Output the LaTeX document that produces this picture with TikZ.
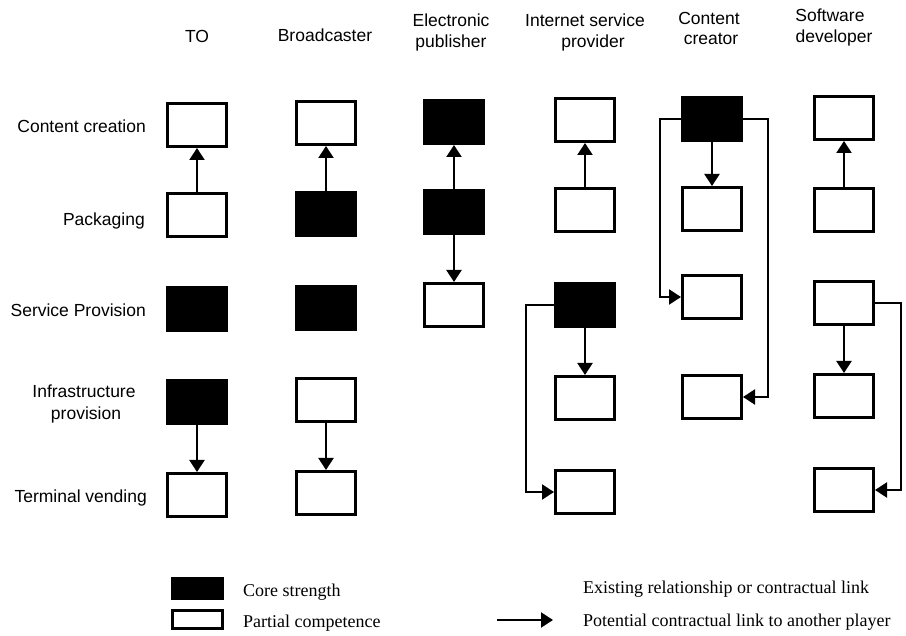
\documentclass[tikz,border=0pt]{standalone}
\usepackage{fontspec}
\setmainfont{Liberation Sans}
\newfontfamily\legfont{Liberation Serif}
\usetikzlibrary{arrows.meta}
\begin{document}
\begin{tikzpicture}[x=1pt,y=-1pt,
  cbox/.style={draw=black,line width=3pt,minimum width=59pt,minimum height=43pt,inner sep=0pt,fill=white},
  core/.style={cbox,fill=black},
  arr/.style={line width=2.2pt,-{Triangle[length=12pt,width=15pt]}},
  hdr/.style={font=\fontsize{17.5}{21}\selectfont,inner sep=0pt,anchor=base},
  rowl/.style={font=\fontsize{17.5}{21}\selectfont,inner sep=0pt,anchor=base east},
  leg/.style={font=\legfont\fontsize{18}{21}\selectfont,inner sep=0pt,anchor=base west}]
\useasboundingbox (0,0) rectangle (906,636);

% headers
\node[hdr] (hTO) at (197,43) {TO};
\node[hdr] (hBr) at (325,42) {Broadcaster};
\node[hdr] (hEPa) at (451,27) {Electronic};
\node[hdr] (hEPb) at (451,48) {publisher};
\node[hdr] (hISPa) at (585,27) {Internet service};
\node[hdr] (hISPb) at (593,48) {provider};
\node[hdr] (hCCa) at (709,25) {Content};
\node[hdr] (hCCb) at (711,45) {creator};
\node[hdr] (hSDa) at (830,22) {Software};
\node[hdr] (hSDb) at (834,43) {developer};

% row labels
\node[rowl] (r1) at (146,133) {Content creation};
\node[rowl] (r2) at (145,226) {Packaging};
\node[rowl] (r3) at (146,317) {Service Provision};
\node[hdr] (r4a) at (84,398) {Infrastructure};
\node[hdr] (r4b) at (86,420) {provision};
\node[rowl] (r5) at (147,503) {Terminal vending};

% TO
\node[cbox] (TO1) at (197,125) {};
\node[cbox] (TO2) at (197,215) {};
\node[core] (TO3) at (197,309) {};
\node[core] (TO4) at (197,402) {};
\node[cbox] (TO5) at (197,495) {};
% Broadcaster
\node[cbox] (Br1) at (326,123) {};
\node[core] (Br2) at (326,214) {};
\node[core] (Br3) at (326,308) {};
\node[cbox] (Br4) at (326,400) {};
\node[cbox] (Br5) at (326,493) {};
% Electronic publisher
\node[core] (EP1) at (454,122) {};
\node[core] (EP2) at (454,212) {};
\node[cbox] (EP3) at (454,305) {};
% ISP
\node[cbox] (ISP1) at (585,120) {};
\node[cbox] (ISP2) at (585,210) {};
\node[core] (ISP3) at (585,305) {};
\node[cbox] (ISP4) at (585,398) {};
\node[cbox] (ISP5) at (585,492) {};
% Content creator
\node[core] (CC1) at (712,119) {};
\node[cbox] (CC2) at (712,209) {};
\node[cbox] (CC3) at (712,297) {};
\node[cbox] (CC4) at (712,397) {};
% Software developer
\node[cbox] (SD1) at (844,118) {};
\node[cbox] (SD2) at (844,210) {};
\node[cbox] (SD3) at (844,303) {};
\node[cbox] (SD4) at (844,396) {};
\node[cbox] (SD5) at (844,490) {};

% connectors
\draw[arr] (TO2.north) -- (TO1.south);
\draw[arr] (TO4.south) -- (TO5.north);
\draw[arr] (Br2.north) -- (Br1.south);
\draw[arr] (Br4.south) -- (Br5.north);
\draw[arr] (EP2.north) -- (EP1.south);
\draw[arr] (EP2.south) -- (EP3.north);
\draw[arr] (ISP2.north) -- (ISP1.south);
\draw[arr] (ISP3.south) -- (ISP4.north);
\draw[arr] (ISP3.west) -- ++(-28,0) |- (ISP5.west);
\draw[arr] (CC1.south) -- (CC2.north);
\draw[arr] (CC1.west) -- ++(-21,0) |- (CC3.west);
\draw[arr] (CC1.east) -- ++(25,0) |- (CC4.east);
\draw[arr] (SD2.north) -- (SD1.south);
\draw[arr] (SD3.south) -- (SD4.north);
\draw[arr] (SD3.east) -- ++(26,0) |- (SD5.east);

% legend
\node[core,minimum width=50pt,minimum height=20pt] (lcore) at (197,588) {};
\node[cbox,minimum width=50pt,minimum height=18pt] (lpart) at (197,619) {};
\node[leg] (tcore) at (243,596) {Core strength};
\node[leg] (tpart) at (243,627) {Partial competence};
\node[leg] (texist) at (583,593) {Existing relationship or contractual link};
\coordinate (la) at (497,620);
\coordinate (lb) at (553,620);
\draw[arr] (la) -- (lb);
\node[leg] (tpot) at (583,626) {Potential contractual link to another player};
\end{tikzpicture}
\end{document}
